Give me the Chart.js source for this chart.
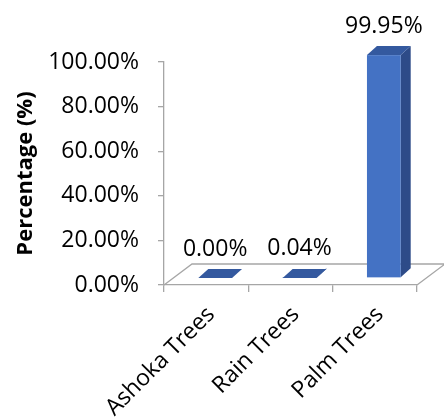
<!DOCTYPE html>
<html>
<head>
<meta charset="utf-8">
<script src="https://cdn.jsdelivr.net/npm/chart.js@4/dist/chart.umd.min.js"></script>
<style>
  body { margin: 0; background: #fff; }
  canvas { display: block; }
</style>
</head>
<body>
<canvas id="tree-chart" width="444" height="419"></canvas>
<script>
let treeTypes = ['Ashoka Trees', 'Rain Trees', 'Palm Trees'];
let percentValues = [0.00, 0.04, 99.95];
let yTicks = [0, 20, 40, 60, 80, 100];

let fontName = 'Open Sans';
let axisGray = '#a6a6a6';

// how far the bars sit back from the front edge, and how deep they are
let barShiftX = 9, barShiftY = -7;
let barDepthX = 10, barDepthY = -9;
let floorDepthX = 28, floorDepthY = -21;

let ctx = document.getElementById('tree-chart').getContext('2d');

// floor of the 3d plot
let floorPlugin = {
    id: 'floor',
    beforeDatasetsDraw(chart) {
        let a = chart.chartArea;
        let c = chart.ctx;
        c.save();
        c.strokeStyle = axisGray;
        c.lineWidth = 1.3;
        c.beginPath();
        c.moveTo(a.left, a.bottom);
        c.lineTo(a.left + floorDepthX, a.bottom + floorDepthY);
        c.lineTo(a.right + floorDepthX, a.bottom + floorDepthY);
        c.lineTo(a.right, a.bottom);
        c.stroke();
        c.restore();
    }
};

// bars drawn as boxes from the bar elements the library placed
let boxPlugin = {
    id: 'boxes',
    beforeDatasetDraw() {
        return false;
    },
    afterDatasetsDraw(chart) {
        let c = chart.ctx;
        let meta = chart.getDatasetMeta(0);
        meta.data.forEach((bar, i) => {
            let x0 = bar.x - bar.width / 2 + barShiftX;
            let x1 = bar.x + bar.width / 2 + barShiftX;
            let top = bar.y + barShiftY;
            let bottom = bar.base + barShiftY;
            c.save();
            // side
            c.fillStyle = '#2d4b88';
            c.beginPath();
            c.moveTo(x1, bottom);
            c.lineTo(x1 + barDepthX, bottom + barDepthY);
            c.lineTo(x1 + barDepthX, top + barDepthY);
            c.lineTo(x1, top);
            c.closePath();
            c.fill();
            // front
            c.fillStyle = '#4472c4';
            c.fillRect(x0, top, x1 - x0, bottom - top);
            // top
            c.fillStyle = '#34599f';
            c.beginPath();
            c.moveTo(x0, top);
            c.lineTo(x0 + barDepthX, top + barDepthY);
            c.lineTo(x1 + barDepthX, top + barDepthY);
            c.lineTo(x1, top);
            c.closePath();
            c.fill();
            // value label
            c.fillStyle = '#000';
            c.font = '23px ' + fontName;
            c.textAlign = 'center';
            c.textBaseline = 'middle';
            c.fillText(percentValues[i].toFixed(2) + '%', (x0 + x1) / 2, top + barDepthY - 20);
            c.restore();
        });
    }
};

let treeChart = new Chart(ctx, {
    type: 'bar',
    data: {
        labels: treeTypes,
        datasets: [{
            data: percentValues,
            backgroundColor: '#4472c4',
            barPercentage: 0.4,
            categoryPercentage: 1
        }]
    },
    options: {
        responsive: false,
        animation: false,
        layout: {
            padding: { top: 62, right: 27, left: 0, bottom: 0 }
        },
        plugins: {
            legend: { display: false },
            tooltip: { enabled: false }
        },
        scales: {
            x: {
                afterFit(scale) { scale.height = 134; },
                grid: {
                    drawOnChartArea: false,
                    tickLength: 7,
                    color: axisGray,
                    lineWidth: 1.3
                },
                border: { color: axisGray, width: 1.3 },
                ticks: {
                    color: '#000',
                    font: { family: fontName, size: 23 },
                    minRotation: 45,
                    maxRotation: 45,
                    padding: 9,
                    labelOffset: 5
                }
            },
            y: {
                min: 0,
                max: 100,
                afterFit(scale) { scale.width = 164; },
                afterBuildTicks(scale) {
                    scale.ticks = yTicks.map(v => ({ value: v }));
                },
                grid: {
                    drawOnChartArea: false,
                    tickLength: 6,
                    color: axisGray,
                    lineWidth: 1.3
                },
                border: { color: axisGray, width: 1.3 },
                ticks: {
                    color: '#000',
                    font: { family: fontName, size: 23 },
                    padding: 19,
                    callback: v => v.toFixed(2) + '%'
                },
                title: {
                    display: true,
                    text: 'Percentage (%)',
                    color: '#000',
                    font: { family: fontName, size: 22, weight: 'bold' },
                    padding: { top: 13, bottom: 0 }
                }
            }
        }
    },
    plugins: [floorPlugin, boxPlugin]
});
</script>
</body>
</html>
